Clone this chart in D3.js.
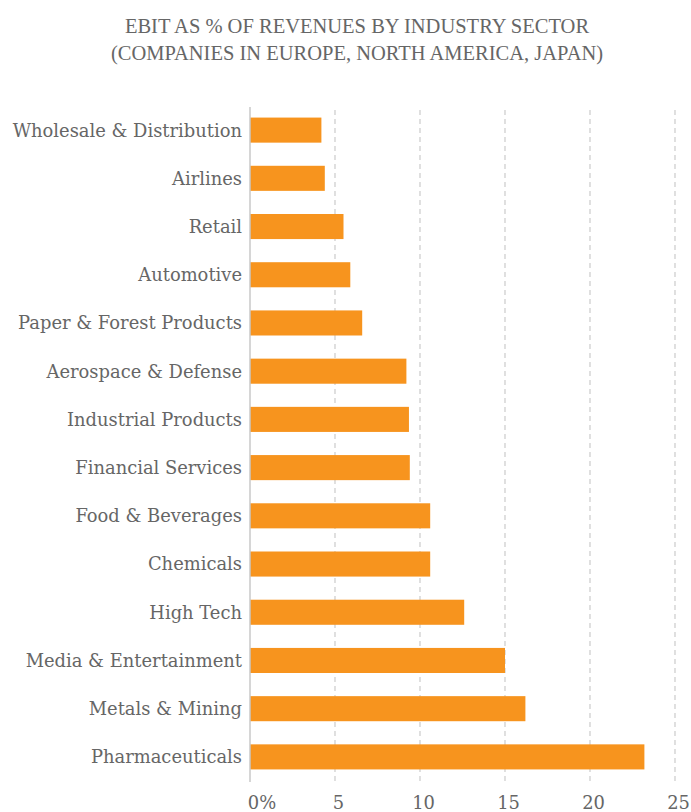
<!DOCTYPE html>
<html><head><meta charset="utf-8">
<script src="https://cdn.jsdelivr.net/npm/d3@7"></script>
<style>body{margin:0;background:#fff}</style>
</head><body>
<svg id="c" width="691" height="812"></svg>
<script>
const categories = ["Wholesale & Distribution","Airlines","Retail","Automotive","Paper & Forest Products","Aerospace & Defense","Industrial Products","Financial Services","Food & Beverages","Chemicals","High Tech","Media & Entertainment","Metals & Mining","Pharmaceuticals"];
const values = [4.2,4.4,5.5,5.9,6.6,9.2,9.35,9.4,10.6,10.6,12.6,15.0,16.2,23.2];
const tickValues = [0,5,10,15,20,25];
const tickLabels = ["0%","5","10","15","20","25"];
const titleLines = ["EBIT AS % OF REVENUES BY INDUSTRY SECTOR","(COMPANIES IN EUROPE, NORTH AMERICA, JAPAN)"];

const svg = d3.select("#c");
const titleFont = "'Liberation Serif', serif";
const labelFont = "'DejaVu Serif', serif";
const labelSize = 17.9;
const x = d3.scaleLinear().domain([0,25]).range([250,675]);
const y = d3.scaleBand().domain(categories).range([106,781]).paddingInner(0.48).paddingOuter(0.24);

// grid
svg.append("g").selectAll("line").data(tickValues.slice(1)).join("line")
  .attr("x1",d=>x(d)).attr("x2",d=>x(d)).attr("y1",110).attr("y2",782)
  .attr("stroke","#cfcfcf").attr("stroke-width",1.3).attr("stroke-dasharray","5,4");

// bars
svg.append("g").selectAll("rect").data(values).join("rect")
  .attr("x",x(0)).attr("y",(d,i)=>y(categories[i]))
  .attr("width",d=>x(d)-x(0)).attr("height",y.bandwidth())
  .attr("fill","#f7941e");

// axis line
svg.append("line").attr("x1",x(0)).attr("x2",x(0)).attr("y1",107).attr("y2",782)
  .attr("stroke","#c8c8c8").attr("stroke-width",1.5);

// category labels
svg.append("g").selectAll("text").data(categories).join("text")
  .attr("x",242).attr("y",d=>y(d)+y.bandwidth()/2).attr("dy","0.36em")
  .attr("text-anchor","end").attr("font-family",labelFont).attr("font-size",labelSize)
  .attr("fill","#666").text(d=>d);

// x axis tick labels
const xa = d3.axisBottom(x).tickValues(tickValues).tickFormat((d,i)=>tickLabels[i]).tickSize(0).tickPadding(0);
const gx = svg.append("g").attr("transform","translate(0,795)").call(xa);
gx.select(".domain").remove();
gx.selectAll("text").attr("font-family",labelFont).attr("font-size",labelSize).attr("fill","#666")
  .attr("dy","0.76em").attr("text-anchor","start")
  .attr("x",function(d){
    const num = String(d);
    const tmp = svg.append("text").attr("font-family",labelFont).attr("font-size",labelSize).text(num);
    const w = tmp.node().getComputedTextLength(); tmp.remove();
    return -w/2 + 3;
  });

// title
svg.append("g").selectAll("text").data(titleLines).join("text")
  .attr("x",357).attr("y",(d,i)=>33+i*27).attr("text-anchor","middle")
  .attr("font-family",titleFont).attr("font-size",20.5).attr("fill","#666").text(d=>d);
</script>
</body></html>
